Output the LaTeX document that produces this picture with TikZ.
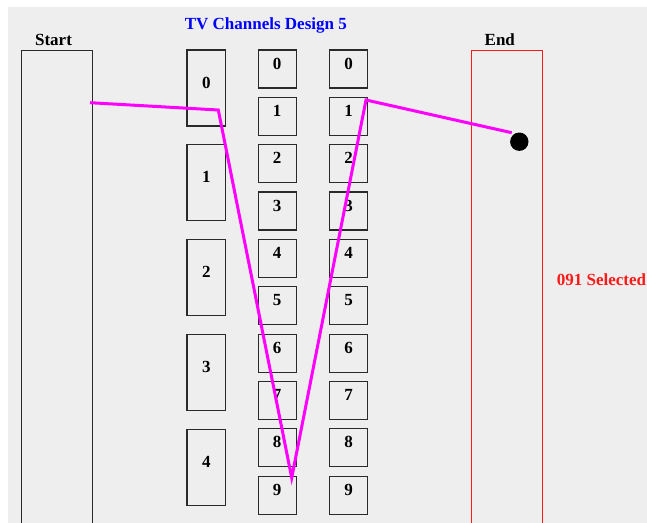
\documentclass[tikz,border=0pt]{standalone}
\usepackage{fontspec}
\setmainfont{Liberation Serif}
\definecolor{bggray}{HTML}{EEEEEE}
\definecolor{boxgray}{HTML}{2A2A2A}
\definecolor{titleblue}{HTML}{0000FF}
\definecolor{magline}{HTML}{FF00FF}
\definecolor{endred}{HTML}{FF1A1A}
\begin{document}
\begin{tikzpicture}[x=1pt,y=-1pt,
  lbl/.style={font=\fontsize{17}{20}\selectfont\bfseries, inner sep=0pt, anchor=base},
  chbox/.style={draw=boxgray, line width=1.2pt, minimum width=38pt, minimum height=38pt, inner sep=0pt},
  tallbox/.style={chbox, minimum width=38.7pt, minimum height=76pt},
  sidebox/.style={line width=1.2pt, minimum width=71.4pt, minimum height=500pt, inner sep=0pt, anchor=north},
  traj/.style={draw=magline, line width=3pt}]
\useasboundingbox (0,0) rectangle (647,522);
\clip (0,0) rectangle (647,522);
\fill[bggray] (8,7) rectangle (647,530);
% title
\node[lbl, text=titleblue] (title) at (265.8,29.5) {TV Channels Design 5};
% start and end
\node[sidebox, draw=boxgray] (start) at (57,50) {};
\node[lbl] (startlbl) at (53.5,45) {Start};
\node[sidebox, draw=endred] (end) at (507,50) {};
\node[lbl] (endlbl) at (499.8,45) {End};
\node[lbl, text=endred] (sel) at (601.5,285.7) {091 Selected};
% first column (tall boxes)
\foreach \i in {0,...,4} {
  \node[tallbox] (a\i) at (206.3,{88+94.8*\i}) {};
  \node[lbl] at (a\i.center) {\i};
}
% second and third columns
\foreach \i in {0,...,9} {
  \node[chbox] (b\i) at (277.2,{69+47.35*\i}) {};
  \node[lbl] at (b\i.center) {\i};
  \node[chbox] (c\i) at (348.5,{69+47.35*\i}) {};
  \node[lbl] at (c\i.center) {\i};
}
% trajectory
\coordinate (p1) at (90,102.7);
\coordinate (p2) at (218.3,110);
\coordinate (p3) at (291.7,477.7);
\coordinate (p4) at (366,100);
\coordinate (p5) at (511.7,132.7);
\draw[traj] (p1) -- (p2) -- (p3) -- (p4) -- (p5);
\node[circle, fill=black, minimum size=18.4pt, inner sep=0pt] (dot) at (519.3,141.7) {};
\end{tikzpicture}
\end{document}
